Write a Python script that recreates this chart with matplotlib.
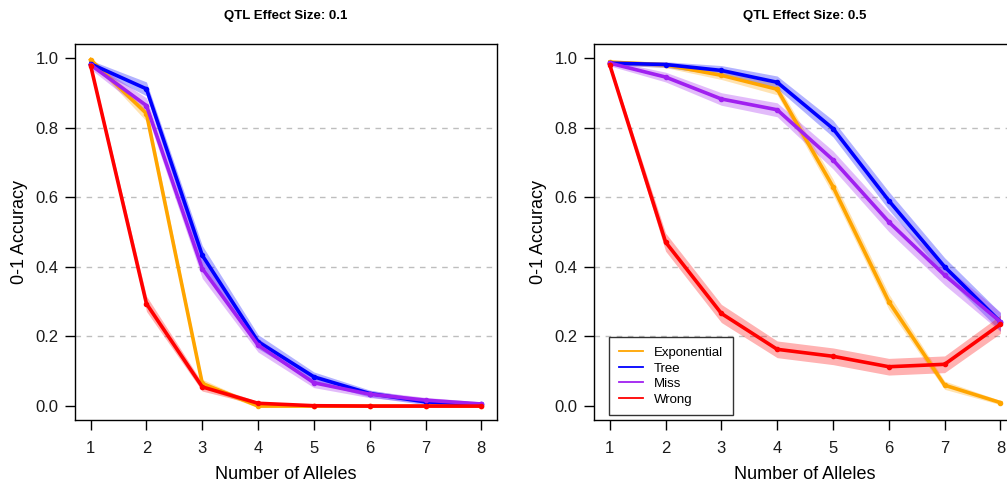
import matplotlib
matplotlib.use("Agg")
import matplotlib.pyplot as plt
import numpy as np

plt.rcParams['font.family'] = ['Liberation Sans', 'DejaVu Sans']

alleles = [1, 2, 3, 4, 5, 6, 7, 8]
series_names = ["Exponential", "Tree", "Miss", "Wrong"]
series_colors = ["#FFA500", "#0000FF", "#A020F0", "#FF0000"]

# QTL effect size 0.1
p1_exponential = [0.995, 0.840, 0.065, 0.000, 0.000, 0.000, 0.000, 0.000]
p1_tree        = [0.983, 0.911, 0.433, 0.185, 0.084, 0.036, 0.012, 0.005]
p1_miss        = [0.980, 0.863, 0.395, 0.175, 0.067, 0.034, 0.017, 0.006]
p1_wrong       = [0.978, 0.294, 0.055, 0.008, 0.001, 0.000, 0.000, 0.000]
p1_exponential_se = [0.005, 0.022, 0.012, 0.004, 0.002, 0.002, 0.002, 0.002]
p1_tree_se        = [0.010, 0.020, 0.028, 0.020, 0.014, 0.010, 0.008, 0.006]
p1_miss_se        = [0.012, 0.022, 0.028, 0.020, 0.014, 0.010, 0.008, 0.006]
p1_wrong_se       = [0.010, 0.022, 0.012, 0.005, 0.003, 0.003, 0.003, 0.003]

# QTL effect size 0.5
p2_exponential = [0.988, 0.980, 0.950, 0.910, 0.630, 0.300, 0.060, 0.010]
p2_tree        = [0.985, 0.981, 0.964, 0.930, 0.797, 0.590, 0.400, 0.242]
p2_miss        = [0.985, 0.945, 0.882, 0.851, 0.707, 0.529, 0.376, 0.242]
p2_wrong       = [0.980, 0.471, 0.266, 0.163, 0.143, 0.113, 0.120, 0.235]
p2_exponential_se = [0.006, 0.008, 0.012, 0.016, 0.022, 0.022, 0.012, 0.006]
p2_tree_se        = [0.006, 0.008, 0.014, 0.018, 0.024, 0.026, 0.026, 0.026]
p2_miss_se        = [0.008, 0.014, 0.018, 0.020, 0.026, 0.028, 0.028, 0.028]
p2_wrong_se       = [0.008, 0.026, 0.026, 0.024, 0.024, 0.024, 0.024, 0.026]

titles = ["QTL Effect Size: 0.1", "QTL Effect Size: 0.5"]
panels = [
    ([p1_exponential, p1_tree, p1_miss, p1_wrong],
     [p1_exponential_se, p1_tree_se, p1_miss_se, p1_wrong_se]),
    ([p2_exponential, p2_tree, p2_miss, p2_wrong],
     [p2_exponential_se, p2_tree_se, p2_miss_se, p2_wrong_se]),
]
yticks = [0.0, 0.2, 0.4, 0.6, 0.8, 1.0]
grid_levels = [0.2, 0.4, 0.6, 0.8]

fig = plt.figure(figsize=(10.07, 4.86), dpi=100)
positions = [[0.0745, 0.1358, 0.419, 0.7737], [0.590, 0.1358, 0.419, 0.7737]]

for i, (pos, title, (vals, ses)) in enumerate(zip(positions, titles, panels)):
    ax = fig.add_axes(pos)
    ax.set_xlim(0.72, 8.28)
    ax.set_ylim(-0.04, 1.04)
    for g in grid_levels:
        ax.axhline(g, color="#BEBEBE", lw=1.0, ls=(0, (4, 4)), zorder=0)
    x = np.array(alleles)
    for name, col, v, s in zip(series_names, series_colors, vals, ses):
        v = np.array(v); s = np.array(s)
        ax.fill_between(x, v - s, v + s, color=col, alpha=0.3, lw=0)
        ax.plot(x, v, color=col, lw=2.6, marker='o', ms=3.0, label=name)
    ax.set_xticks(alleles)
    ax.set_yticks(yticks)
    ax.set_yticklabels([f"{t:.1f}" for t in yticks])
    ax.tick_params(axis='both', direction='out', length=7, width=1,
                   labelsize=12, colors='black', labelcolor='#1a1a1a')
    ax.tick_params(axis='x', pad=8)
    ax.tick_params(axis='y', pad=5)
    for sp in ax.spines.values():
        sp.set_linewidth(1.0)
    ax.set_xlabel("Number of Alleles", fontsize=13, labelpad=7)
    ax.set_ylabel("0-1 Accuracy", fontsize=13, labelpad=5)
    ax.set_title(title, fontsize=9.5, fontweight='bold', pad=18)
    if i == 1:
        handles = [plt.Line2D([0], [0], color=c, lw=1.3) for c in series_colors]
        leg = ax.legend(handles, series_names, loc='lower left',
                        bbox_to_anchor=(0.036, 0.012), fontsize=9.5,
                        frameon=True, fancybox=False, edgecolor='black',
                        handlelength=1.8, handletextpad=0.8,
                        labelspacing=0.25, borderpad=0.75, borderaxespad=0)
        leg.get_frame().set_linewidth(1.0)

fig.savefig("out.png", dpi=100)
